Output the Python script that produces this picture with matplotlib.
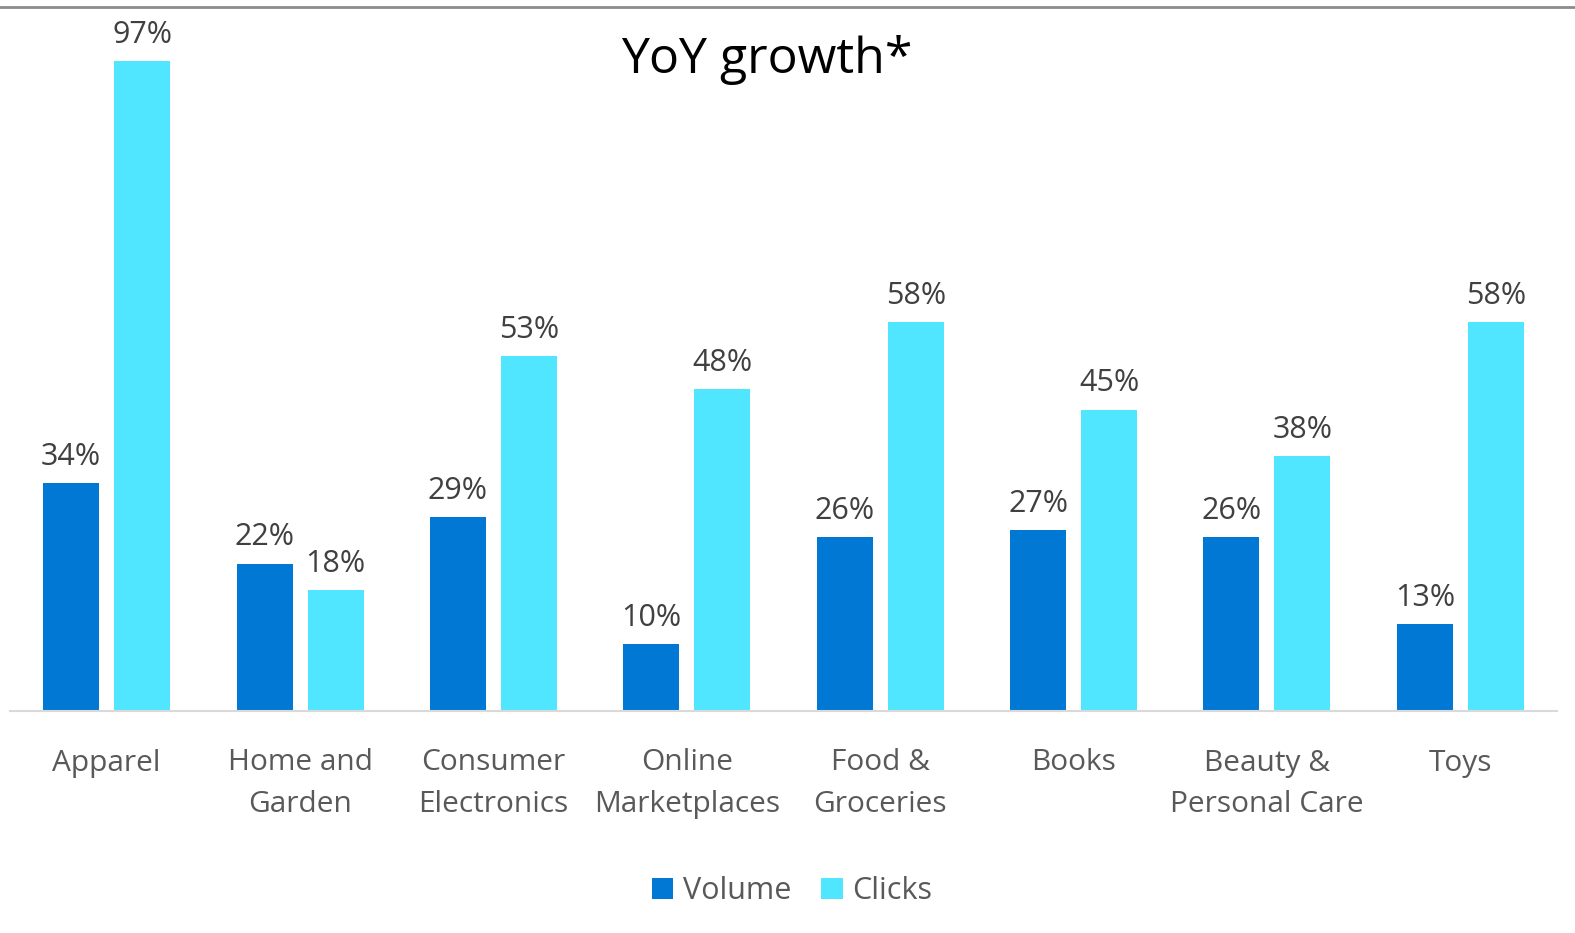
import matplotlib.pyplot as plt
import numpy as np
from matplotlib.lines import Line2D

categories = ["Apparel", "Home and\nGarden", "Consumer\nElectronics", "Online\nMarketplaces",
              "Food &\nGroceries", "Books", "Beauty &\nPersonal Care", "Toys"]
volume = [34, 22, 29, 10, 26, 27, 26, 13]
clicks = [97, 18, 53, 48, 58, 45, 38, 58]

plt.rcParams["font.family"] = ["Open Sans", "DejaVu Sans"]

fig = plt.figure(figsize=(15.75, 9.33), dpi=100)
ax = fig.add_axes([10 / 1575, 1 - 711 / 933, 1547 / 1575, 670 / 933])

x = np.arange(len(categories))
w = 0.29
off = 0.1836
b1 = ax.bar(x - off, volume, w, color="#0078D4", label="Volume")
b2 = ax.bar(x + off, clicks, w, color="#50E6FF", label="Clicks")

for bars, vals in ((b1, volume), (b2, clicks)):
    for rect, v in zip(bars, vals):
        ax.annotate(f"{v}%", (rect.get_x() + rect.get_width() / 2, v),
                    xytext=(0, 8), textcoords="offset points",
                    ha="center", va="bottom", fontsize=22, color="#404040")

ax.set_xlim(-0.5, len(categories) - 0.5)
ax.set_ylim(0, 100)
ax.set_yticks([])
ax.set_xticks(x)
ax.set_xticklabels(categories, fontsize=21.5, color="#595959", linespacing=1.55)
ax.tick_params(axis="x", length=0, pad=27)
for s in ("top", "right", "left"):
    ax.spines[s].set_visible(False)
ax.spines["bottom"].set_color("#d9d9d9")
ax.spines["bottom"].set_linewidth(1.5)

fig.text(0.487, 1 - 60 / 933, "YoY growth*", ha="center", va="center",
         fontsize=36, color="black")

# thin rule along the top edge
fig.add_artist(Line2D([0, 1], [1 - 7 / 933, 1 - 7 / 933], color="#8c8c8c", lw=2))

fig.legend(handles=[b1, b2], loc="center", bbox_to_anchor=(792 / 1575, 1 - 891 / 933),
           ncol=2, frameon=False, fontsize=22, labelcolor="#595959",
           handlelength=0.7, handleheight=0.7, handletextpad=0.3, columnspacing=1.0)

fig.savefig("out.png", dpi=100)
